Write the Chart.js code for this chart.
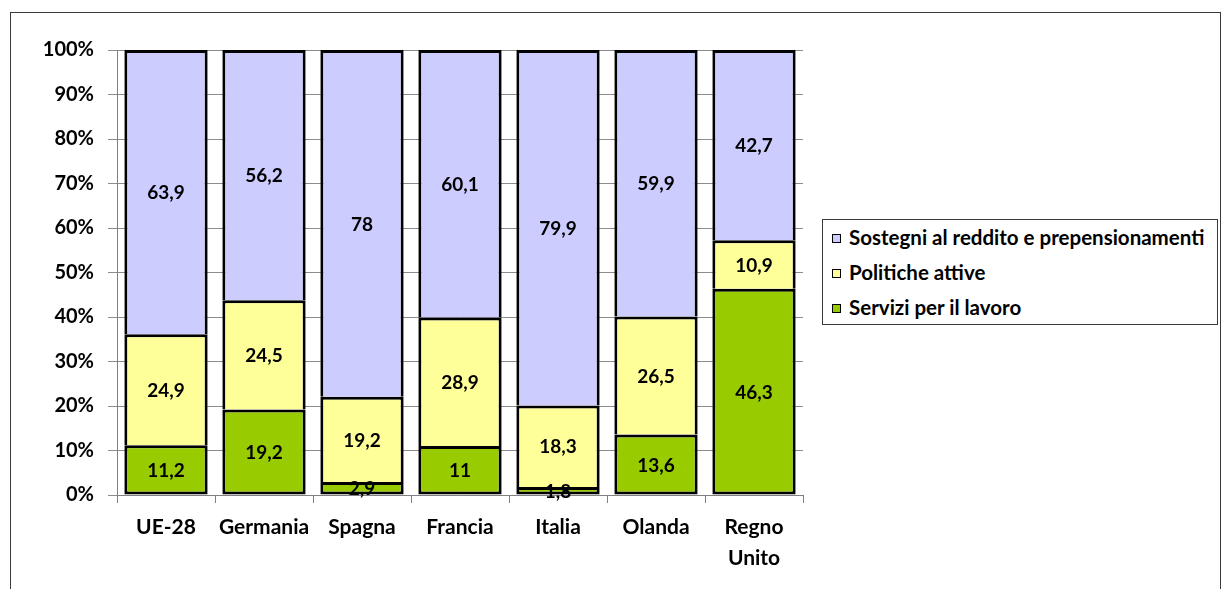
<!DOCTYPE html>
<html><head><meta charset="utf-8">
<script src="https://cdn.jsdelivr.net/npm/chart.js@4/dist/chart.umd.min.js"></script>
<style>
html,body{margin:0;padding:0;background:#fff;overflow:hidden}
#wrap{position:relative;width:1221px;height:589px}
#frame{position:absolute;left:10px;top:12px;width:1211px;height:640px;border:1px solid #3a3a3a;box-sizing:border-box}
#c{position:absolute;left:0;top:0}
#legend{position:absolute;left:822px;top:219px;width:396px;height:106px;border:1px solid #3a3a3a;box-sizing:border-box;font:bold 20.5px Lato,sans-serif;color:#000;background:#fff}
.row{position:absolute;left:9px;height:24px;line-height:24px;white-space:nowrap}
.sw{display:inline-block;width:7px;height:7px;border:1.5px solid #000;margin-right:8px;vertical-align:middle;position:relative;top:-1px}
</style></head>
<body>
<div id="wrap">
<div id="frame"></div>
<canvas id="c" width="1221" height="589"></canvas>
<div id="legend"></div>
</div>
<script>
const categories = ['UE-28','Germania','Spagna','Francia','Italia','Olanda',['Regno','Unito']];
const seriesNames = ['Servizi per il lavoro','Politiche attive','Sostegni al reddito e prepensionamenti'];
const servizi   = [11.2, 19.2, 2.9, 11, 1.8, 13.6, 46.3];
const politiche = [24.9, 24.5, 19.2, 28.9, 18.3, 26.5, 10.9];
const sostegni  = [63.9, 56.2, 78, 60.1, 79.9, 59.9, 42.7];
const yTickValues = [0,10,20,30,40,50,60,70,80,90,100];
const colors = ['#99CC00','#FFFF99','#CCCCFF'];

const raw = [servizi, politiche, sostegni];
const totals = categories.map((_, i) => raw.reduce((s, a) => s + a[i], 0));
const pct = raw.map(a => a.map((v, i) => v / totals[i] * 100));

const FONT = "Lato, sans-serif";

const labelPlugin = {
  id: 'segLabels',
  afterDatasetsDraw(chart) {
    const ctx = chart.ctx;
    ctx.save();
    ctx.font = 'bold 19px ' + FONT;
    ctx.fillStyle = '#000';
    ctx.textAlign = 'center';
    ctx.textBaseline = 'middle';
    chart.data.datasets.forEach((ds, di) => {
      const meta = chart.getDatasetMeta(di);
      meta.data.forEach((el, i) => {
        const p = el.getProps(['x','y','base'], true);
        const txt = String(ds.rawValues[i]).replace('.', ',');
        ctx.fillText(txt, p.x, (p.y + p.base) / 2 + 1);
      });
    });
    ctx.restore();
  }
};

const datasets = seriesNames.map((name, k) => ({
  label: name,
  data: pct[k],
  rawValues: raw[k],
  backgroundColor: colors[k],
  borderColor: '#000',
  borderWidth: 3,
  borderSkipped: k === 0 ? false : 'start',
  barPercentage: 0.85,
  categoryPercentage: 1.0
}));

const chart = new Chart(document.getElementById('c'), {
  type: 'bar',
  data: { labels: categories, datasets },
  options: {
    responsive: false,
    animation: false,
    events: [],
    layout: { padding: { left: 0, top: 50, right: 418, bottom: 0 } },
    plugins: { legend: { display: false }, tooltip: { enabled: false } },
    scales: {
      x: {
        stacked: true,
        afterFit(s) { s.height = 94; },
        grid: { offset: true, drawOnChartArea: false, drawTicks: true, tickLength: 8, color: '#808080' },
        border: { display: true, color: '#808080', width: 1 },
        ticks: { color: '#000', font: { family: FONT, size: 21, weight: 'bold', lineHeight: 1.47 }, padding: 9, maxRotation: 0, autoSkip: false }
      },
      y: {
        stacked: true,
        min: 0, max: 100,
        afterFit(s) { s.width = 117; },
        afterBuildTicks(s) { s.ticks = yTickValues.map(v => ({ value: v })); },
        grid: { color: '#8c8c8c', drawTicks: true, tickLength: 9 },
        border: { display: true, color: '#808080', width: 1 },
        ticks: { color: '#000', font: { family: FONT, size: 20, weight: 'bold' }, padding: 14, callback: v => v + '%' }
      }
    }
  },
  plugins: [labelPlugin]
});

// legend built from the chart's datasets (reverse order, as in the reference)
const leg = document.getElementById('legend');
const rowTops = [5, 40, 75];
chart.data.datasets.slice().reverse().forEach((ds, j) => {
  const r = document.createElement('div');
  r.className = 'row';
  r.style.top = rowTops[j] + 'px';
  const sw = document.createElement('span');
  sw.className = 'sw';
  sw.style.background = ds.backgroundColor;
  r.appendChild(sw);
  r.appendChild(document.createTextNode(ds.label));
  leg.appendChild(r);
});
</script>
</body></html>
